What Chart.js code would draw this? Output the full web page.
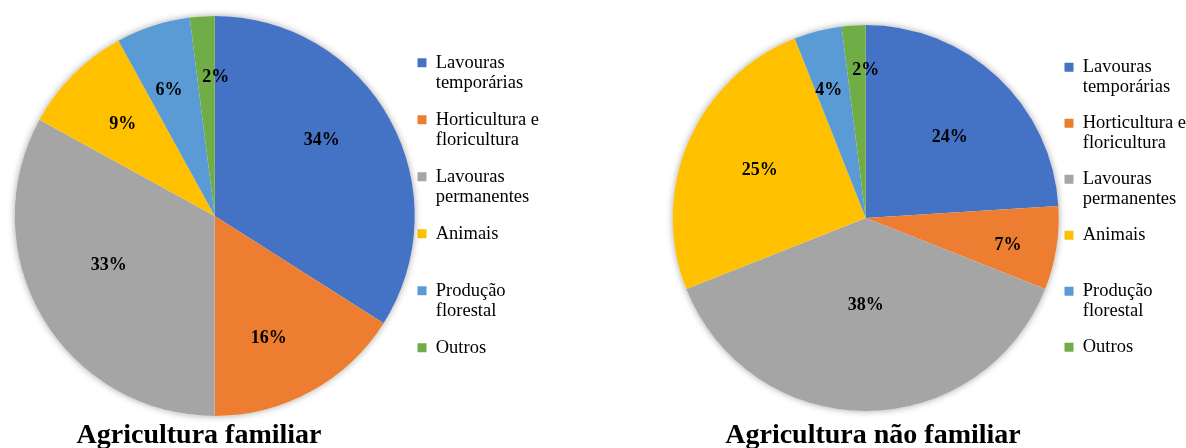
<!DOCTYPE html>
<html>
<head>
<meta charset="utf-8">
<script src="https://cdn.jsdelivr.net/npm/chart.js@4.4.1/dist/chart.umd.min.js"></script>
<style>
  html, body { margin: 0; padding: 0; background: #fff; overflow: hidden; }
  #wrap { position: relative; width: 1186px; height: 448px; overflow: hidden; }
  .box { position: absolute; top: 0; width: 593px; height: 448px; }
</style>
</head>
<body>
<div id="wrap">
  <div class="box" style="left:0"><canvas id="famCanvas"></canvas></div>
  <div class="box" style="left:603px"><canvas id="naoFamCanvas"></canvas></div>
</div>
<script>
// legend categories, split into the lines shown in the legend
const categories = [
  ['Lavouras', 'temporárias'],
  ['Horticultura e', 'floricultura'],
  ['Lavouras', 'permanentes'],
  ['Animais'],
  ['Produção', 'florestal'],
  ['Outros']
];
const familiarValues = [34, 16, 33, 9, 6, 2];
const naoFamiliarValues = [24, 7, 38, 25, 4, 2];
const titles = ['Agricultura familiar', 'Agricultura não familiar'];

const sliceColors = [
  '#4472C4', // blue
  '#ED7D31', // orange
  '#A5A5A5', // grey
  '#FFC000', // yellow
  '#5B9BD5', // light blue
  '#70AD47'  // green
];

const serif = '"Liberation Serif", "Times New Roman", serif';

// soft shadow under the pie
const pieShadow = {
  id: 'pieShadow',
  beforeDatasetsDraw(chart) {
    const arc = chart.getDatasetMeta(0).data[0];
    if (!arc) return;
    const {ctx} = chart;
    ctx.save();
    ctx.shadowColor = 'rgba(0,0,0,0.35)';
    ctx.shadowBlur = 7;
    ctx.fillStyle = '#fff';
    ctx.beginPath();
    ctx.arc(arc.x, arc.y, arc.outerRadius, 0, Math.PI * 2);
    ctx.fill();
    ctx.restore();
  }
};

// percent labels inside the slices (radial = fraction of radius, shift = degrees)
const pctLabels = {
  id: 'pctLabels',
  afterDatasetsDraw(chart, args, opts) {
    const {ctx} = chart;
    const values = chart.data.datasets[0].data;
    const total = values.reduce((a, b) => a + b, 0);
    ctx.save();
    ctx.font = 'bold 18px ' + serif;
    ctx.fillStyle = '#000';
    ctx.textAlign = 'center';
    ctx.textBaseline = 'middle';
    chart.getDatasetMeta(0).data.forEach((arc, i) => {
      const mid = (arc.startAngle + arc.endAngle) / 2 + opts.shift[i] * Math.PI / 180;
      const d = arc.outerRadius * opts.radial[i];
      const pct = Math.round(values[i] / total * 100) + '%';
      ctx.fillText(pct, arc.x + Math.cos(mid) * d, arc.y + Math.sin(mid) * d);
    });
    ctx.restore();
  }
};

// title under the pie
const bottomTitle = {
  id: 'bottomTitle',
  afterDraw(chart, args, opts) {
    const {ctx} = chart;
    ctx.save();
    ctx.font = 'bold 28px ' + serif;
    ctx.fillStyle = '#000';
    ctx.textAlign = 'center';
    ctx.textBaseline = 'alphabetic';
    ctx.fillText(opts.text, opts.x, opts.y);
    ctx.restore();
  }
};

function makePie(canvasId, values, title, cfg) {
  return new Chart(document.getElementById(canvasId), {
    type: 'pie',
    data: {
      labels: categories,
      datasets: [{
        data: values,
        backgroundColor: sliceColors,
        borderWidth: 0,
        radius: cfg.radius,
        clip: false
      }]
    },
    options: {
      responsive: true,
      maintainAspectRatio: false,
      animation: false,
      events: [],
      layout: { padding: cfg.padding },
      plugins: {
        tooltip: { enabled: false },
        legend: {
          position: 'right',
          labels: {
            boxWidth: 9,
            boxHeight: 9,
            padding: cfg.legendGap,
            color: '#000',
            font: { family: serif, size: 18.5, lineHeight: '20px' },
            generateLabels(chart) {
              const items = Chart.overrides.pie.plugins.legend.labels.generateLabels(chart);
              items.forEach(it => {
                it.text = it.text.slice();
                while (it.text.length < 2) it.text.push('');
              });
              return items;
            }
          }
        },
        pctLabels: { radial: cfg.radial, shift: cfg.shift },
        bottomTitle: { text: title, x: cfg.titleX, y: 443 }
      }
    },
    plugins: [pieShadow, pctLabels, bottomTitle]
  });
}

makePie('famCanvas', familiarValues, titles[0], {
  radius: 200,
  padding: { left: 29, top: 16, bottom: 32, right: 44 },
  legendGap: 17,
  radial: [0.656, 0.667, 0.584, 0.65, 0.67, 0.695],
  shift: [-6.6, 4.9, 5.8, 0, -2, 4],
  titleX: 199
});

makePie('naoFamCanvas', naoFamiliarValues, titles[1], {
  radius: 193,
  padding: { left: 80, top: 25, bottom: 37, right: 0 },
  legendGap: 16,
  radial: [0.605, 0.75, 0.45, 0.603, 0.69, 0.767],
  shift: [2.8, 1.8, 0, 1, -1.7, 3.6],
  titleX: 270
});
</script>
</body>
</html>
